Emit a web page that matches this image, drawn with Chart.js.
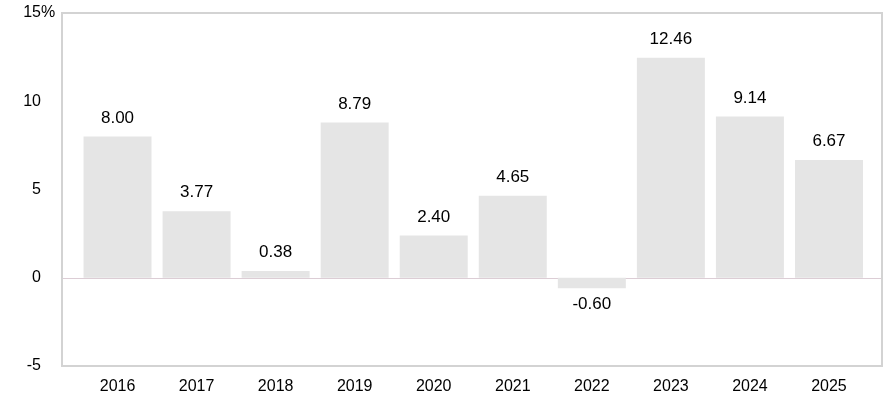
<!DOCTYPE html>
<html>
<head>
<meta charset="utf-8">
<script src="https://cdn.jsdelivr.net/npm/chart.js@4/dist/chart.umd.min.js"></script>
<style>
  html, body { margin: 0; padding: 0; background: #fff; }
  #wrap { width: 885px; height: 404px; position: relative; }
</style>
</head>
<body>
<div id="wrap"><canvas id="chart"></canvas></div>
<script>
// Annual returns, %
const years = ['2016', '2017', '2018', '2019', '2020', '2021', '2022', '2023', '2024', '2025'];
const returns = [8.00, 3.77, 0.38, 8.79, 2.40, 4.65, -0.60, 12.46, 9.14, 6.67];
const yTicks = [-5, 0, 5, 10, 15];

const FONT = 'Liberation Sans, Arial, sans-serif';
// the frame sits a little outside the first/last category
const FRAME_LEFT = 16;
const FRAME_RIGHT = 13.5;

// Frame, zero line and the "%" unit beside the top tick
const frameBox = {
  id: 'frameBox',
  beforeDatasetsDraw(chart) {
    const { ctx, chartArea: a } = chart;
    const y0 = Math.round(chart.scales.y.getPixelForValue(0)) + 0.5;
    ctx.save();
    ctx.strokeStyle = '#dccdd5';
    ctx.lineWidth = 1;
    ctx.beginPath();
    ctx.moveTo(a.left - FRAME_LEFT, y0);
    ctx.lineTo(a.right + FRAME_RIGHT, y0);
    ctx.stroke();
    ctx.restore();
  },
  afterDraw(chart) {
    const { ctx, chartArea: a } = chart;
    ctx.save();
    ctx.strokeStyle = '#d3d3d3';
    ctx.lineWidth = 2;
    ctx.strokeRect(a.left - FRAME_LEFT, a.top, a.right - a.left + FRAME_LEFT + FRAME_RIGHT, a.bottom - a.top);

    const yScale = chart.scales.y;
    ctx.fillStyle = '#000';
    ctx.font = '16px ' + FONT;
    ctx.textAlign = 'left';
    ctx.textBaseline = 'middle';
    ctx.fillText('%', yScale.right - 37, yScale.getPixelForValue(yTicks[yTicks.length - 1]));
    ctx.restore();
  }
};

// Value labels above (or below) each bar
const valueLabels = {
  id: 'valueLabels',
  afterDatasetsDraw(chart) {
    const { ctx } = chart;
    const meta = chart.getDatasetMeta(0);
    ctx.save();
    ctx.fillStyle = '#000';
    ctx.font = '17px ' + FONT;
    ctx.textAlign = 'center';
    meta.data.forEach((bar, i) => {
      const v = returns[i];
      if (v >= 0) {
        ctx.textBaseline = 'bottom';
        ctx.fillText(v.toFixed(2), bar.x, bar.y - 10);
      } else {
        ctx.textBaseline = 'top';
        ctx.fillText(v.toFixed(2), bar.x, bar.y + 7);
      }
    });
    ctx.restore();
  }
};

new Chart(document.getElementById('chart'), {
  type: 'bar',
  data: {
    labels: years,
    datasets: [{
      data: returns,
      backgroundColor: '#e5e5e5',
      borderWidth: 0,
      categoryPercentage: 1,
      barPercentage: 0.86
    }]
  },
  options: {
    responsive: true,
    maintainAspectRatio: false,
    animation: false,
    layout: { padding: { top: 13, right: 16.5, left: 0, bottom: 0 } },
    plugins: {
      legend: { display: false },
      tooltip: { enabled: false }
    },
    scales: {
      x: {
        grid: { display: false, drawTicks: false },
        border: { display: false },
        ticks: {
          color: '#000',
          font: { family: FONT, size: 16 },
          padding: 11,
          maxRotation: 0,
          autoSkip: false
        },
        afterFit(scale) {
          scale.height = 38;
          scale.paddingLeft = 0;
          scale.paddingRight = 0;
        }
      },
      y: {
        min: -5,
        max: 15,
        afterBuildTicks(scale) {
          scale.ticks = yTicks.map(v => ({ value: v }));
        },
        grid: { display: false, drawTicks: false },
        border: { display: false },
        ticks: {
          color: '#000',
          font: { family: FONT, size: 16 },
          padding: 37,
          callback: v => String(v)
        },
        afterFit(scale) {
          scale.width = 78;
          scale.paddingTop = 0;
          scale.paddingBottom = 0;
        }
      }
    }
  },
  plugins: [frameBox, valueLabels]
});
</script>
</body>
</html>
